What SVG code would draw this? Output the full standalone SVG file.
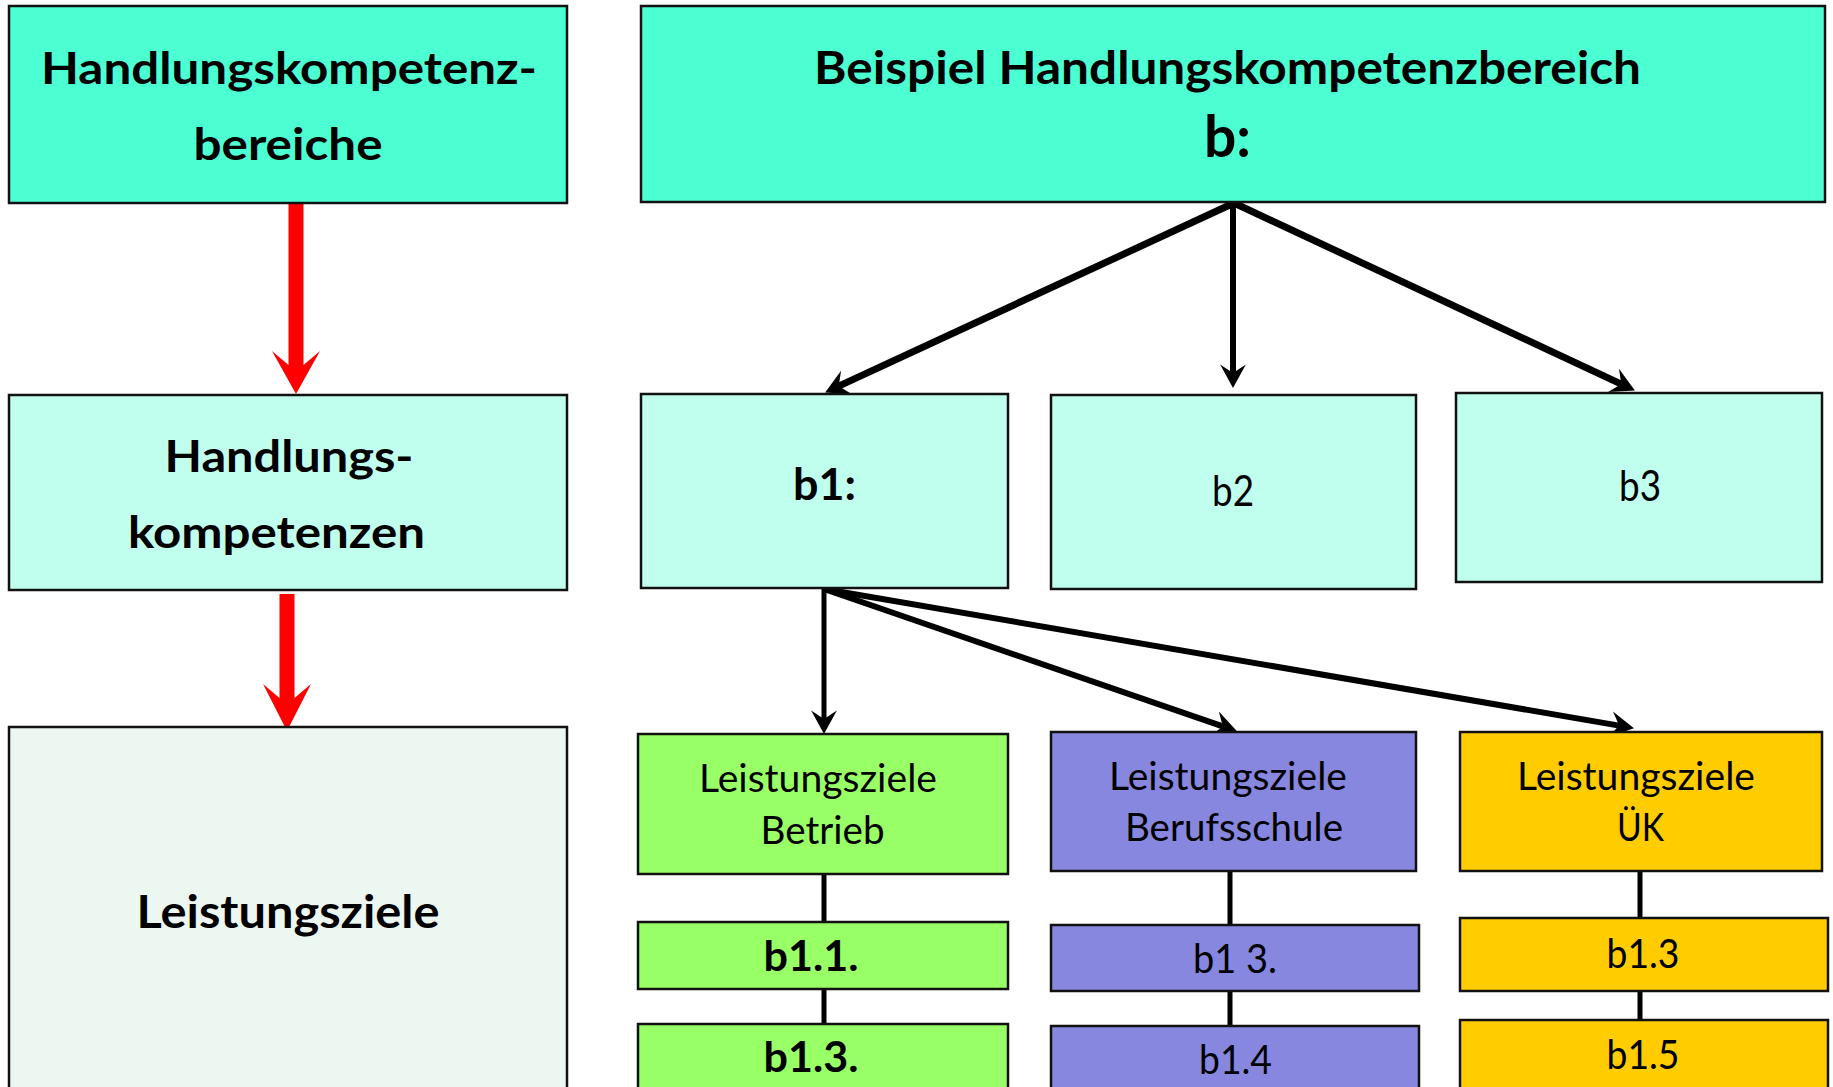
<svg xmlns="http://www.w3.org/2000/svg" width="1833" height="1087" viewBox="0 0 1833 1087">
<style>
.box{stroke:#111;stroke-width:2.5}
.dark{fill:#4CFFD2}
.light{fill:#C0FFED}
.pale{fill:#EDF7F1}
.green{fill:#99FF66}
.purple{fill:#8787E0}
.yellow{fill:#FFCC00}
text{font-family:Lato,"Open Sans","Liberation Sans",sans-serif;fill:#000;text-anchor:middle}
.b{font-weight:bold}
.con{stroke:#000;fill:none}
</style>
<defs>
<marker id="ah" markerUnits="userSpaceOnUse" markerWidth="30" markerHeight="30" refX="0" refY="0" viewBox="-10 -14 26 28" orient="auto">
<path d="M14,0 L-8,-12 L0,0 L-8,12 Z" fill="#000"/>
</marker>
</defs>
<g id="connectors">
<path d="M288.5,203 L303.5,203 L303.5,365 L320,351 L296,394 L272,351 L288.5,365 Z" fill="#FF0000"/>
<path d="M279.5,594 L294.5,594 L294.5,698 L311,684 L287,731 L263,684 L279.5,698 Z" fill="#FF0000"/>
<line class="con" x1="1234" y1="203" x2="838.7" y2="386.1" stroke-width="7" marker-end="url(#ah)"/>
<line class="con" x1="1233" y1="203" x2="1233" y2="373" stroke-width="6" marker-end="url(#ah)"/>
<line class="con" x1="1234" y1="203" x2="1621.3" y2="384.1" stroke-width="7" marker-end="url(#ah)"/>
<line class="con" x1="824" y1="589" x2="824" y2="719" stroke-width="5" marker-end="url(#ah)"/>
<line class="con" x1="824" y1="589" x2="1222.8" y2="726.4" stroke-width="6" marker-end="url(#ah)"/>
<line class="con" x1="824" y1="589" x2="1619.2" y2="725.6" stroke-width="6" marker-end="url(#ah)"/>
<line class="con" x1="824" y1="874" x2="824" y2="922" stroke-width="5"/>
<line class="con" x1="824" y1="989" x2="824" y2="1024" stroke-width="5"/>
<line class="con" x1="1230" y1="871" x2="1230" y2="925" stroke-width="5"/>
<line class="con" x1="1230" y1="991" x2="1230" y2="1026" stroke-width="5"/>
<line class="con" x1="1640" y1="871" x2="1640" y2="918" stroke-width="5"/>
<line class="con" x1="1640" y1="991" x2="1640" y2="1020" stroke-width="5"/>
</g>
<g id="node-hkb">
<rect class="box dark" x="9" y="6" width="558" height="197"/>
<text class="b" x="289" y="83.5" font-size="44" textLength="496" lengthAdjust="spacingAndGlyphs">Handlungskompetenz-</text>
<text class="b" x="288" y="160" font-size="44" textLength="189" lengthAdjust="spacingAndGlyphs">bereiche</text>
</g>
<g id="node-hk">
<rect class="box light" x="9" y="395" width="558" height="195"/>
<text class="b" x="289" y="471.5" font-size="44" textLength="249" lengthAdjust="spacingAndGlyphs">Handlungs-</text>
<text class="b" x="276.5" y="548" font-size="44" textLength="297" lengthAdjust="spacingAndGlyphs">kompetenzen</text>
</g>
<g id="node-lz">
<rect class="box pale" x="9" y="727" width="558" height="400"/>
<text class="b" x="288" y="928" font-size="46" textLength="303" lengthAdjust="spacingAndGlyphs">Leistungsziele</text>
</g>
<g id="node-b">
<rect class="box dark" x="641" y="6" width="1184" height="196"/>
<text class="b" x="1227.5" y="83.5" font-size="46" textLength="827" lengthAdjust="spacingAndGlyphs">Beispiel Handlungskompetenzbereich</text>
<text class="b" x="1227.5" y="157" font-size="58" textLength="47" lengthAdjust="spacingAndGlyphs">b:</text>
</g>
<g id="node-b1">
<rect class="box light" x="641" y="394" width="367" height="194"/>
<text class="b" x="824.5" y="499.5" font-size="43" textLength="63" lengthAdjust="spacingAndGlyphs">b1:</text>
</g>
<g id="node-b2">
<rect class="box light" x="1051" y="395" width="365" height="194"/>
<text x="1233" y="506" font-size="42" textLength="42" lengthAdjust="spacingAndGlyphs">b2</text>
</g>
<g id="node-b3">
<rect class="box light" x="1456" y="393" width="366" height="189"/>
<text x="1640" y="501" font-size="42" textLength="42" lengthAdjust="spacingAndGlyphs">b3</text>
</g>
<g id="node-lz-betrieb">
<rect class="box green" x="638" y="734" width="370" height="140"/>
<text x="818" y="792" font-size="38" textLength="238" lengthAdjust="spacingAndGlyphs">Leistungsziele</text>
<text x="822.6" y="844" font-size="38" textLength="124" lengthAdjust="spacingAndGlyphs">Betrieb</text>
</g>
<g id="node-lz-schule">
<rect class="box purple" x="1051" y="732" width="365" height="139"/>
<text x="1228" y="790" font-size="38" textLength="238" lengthAdjust="spacingAndGlyphs">Leistungsziele</text>
<text x="1234" y="841" font-size="38" textLength="218" lengthAdjust="spacingAndGlyphs">Berufsschule</text>
</g>
<g id="node-lz-uek">
<rect class="box yellow" x="1460" y="732" width="362" height="139"/>
<text x="1636" y="790" font-size="38" textLength="238" lengthAdjust="spacingAndGlyphs">Leistungsziele</text>
<text x="1640.5" y="841" font-size="38" textLength="47" lengthAdjust="spacingAndGlyphs">ÜK</text>
</g>
<g id="node-b1-1">
<rect class="box green" x="638" y="922" width="370" height="67"/>
<text class="b" x="811" y="971" font-size="42" textLength="95" lengthAdjust="spacingAndGlyphs">b1.1.</text>
</g>
<g id="node-b1-3-betrieb">
<rect class="box green" x="638" y="1024" width="370" height="100"/>
<text class="b" x="811" y="1072" font-size="42" textLength="95" lengthAdjust="spacingAndGlyphs">b1.3.</text>
</g>
<g id="node-b1-3-schule">
<rect class="box purple" x="1051" y="925" width="368" height="66"/>
<text x="1235" y="973" font-size="40" textLength="84" lengthAdjust="spacingAndGlyphs">b1 3.</text>
</g>
<g id="node-b1-4">
<rect class="box purple" x="1051" y="1026" width="368" height="100"/>
<text x="1235.5" y="1074" font-size="40" textLength="73" lengthAdjust="spacingAndGlyphs">b1.4</text>
</g>
<g id="node-b1-3-uek">
<rect class="box yellow" x="1460" y="918" width="368" height="73"/>
<text x="1643" y="968" font-size="40" textLength="73" lengthAdjust="spacingAndGlyphs">b1.3</text>
</g>
<g id="node-b1-5">
<rect class="box yellow" x="1460" y="1020" width="368" height="100"/>
<text x="1643" y="1069" font-size="40" textLength="73" lengthAdjust="spacingAndGlyphs">b1.5</text>
</g>
</svg>
